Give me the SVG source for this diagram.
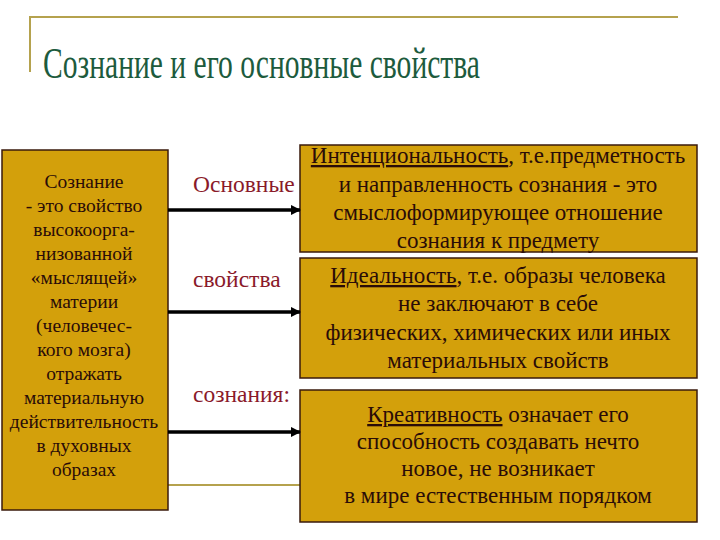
<svg xmlns="http://www.w3.org/2000/svg" width="720" height="540" viewBox="0 0 720 540">
<defs>
<style>
.box{fill:#D3A00B;stroke:#3a1a0c;stroke-width:1.5}
.t{font-family:"Liberation Serif","DejaVu Serif",serif;fill:#2a0c08;text-anchor:middle}
.lt{font-size:19.5px}
.rt{font-size:23px}
.mid{font-family:"Liberation Serif","DejaVu Serif",serif;font-size:23.5px;fill:#8a1a2a}
.deco{stroke:#b5a24e;stroke-width:2;fill:none}
.arr{stroke:#000;stroke-width:3.5;fill:none}
</style>
<marker id="ah" viewBox="0 0 10 10" refX="9" refY="5" markerWidth="3" markerHeight="3" orient="auto" markerUnits="strokeWidth">
<path d="M0,0 L10,5 L0,10 z" fill="#000"/>
</marker>
</defs>
<rect width="720" height="540" fill="#fff"/>
<g id="decor">
<path class="deco" d="M30,72 V17 H678"/>
<line class="deco" x1="168" y1="485" x2="300" y2="485"/>
</g>
<text id="title" x="43" y="78" font-family="Liberation Serif, DejaVu Serif, serif" font-size="44" fill="#1d5b3d" textLength="437" lengthAdjust="spacingAndGlyphs">Сознание и его основные свойства</text>
<g id="node-left">
<rect class="box" x="2" y="150" width="166" height="360"/>
<text class="t lt" x="84" y="188">Сознание</text>
<text class="t lt" x="84" y="212">- это свойство</text>
<text class="t lt" x="84" y="236">высокоорга-</text>
<text class="t lt" x="84" y="260">низованной</text>
<text class="t lt" x="84" y="284">«мыслящей»</text>
<text class="t lt" x="84" y="308">материи</text>
<text class="t lt" x="84" y="332">(человечес-</text>
<text class="t lt" x="84" y="356">кого мозга)</text>
<text class="t lt" x="84" y="380">отражать</text>
<text class="t lt" x="84" y="404">материальную</text>
<text class="t lt" x="84" y="428">действительность</text>
<text class="t lt" x="84" y="452">в духовных</text>
<text class="t lt" x="84" y="476">образах</text>
</g>
<g id="labels">
<text class="mid" x="193" y="192">Основные</text>
<text class="mid" x="193" y="287">свойства</text>
<text class="mid" x="193" y="402">сознания:</text>
</g>
<g id="node-intent">
<rect class="box" x="300" y="145" width="397" height="107"/>
<text class="t rt" x="498" y="163"><tspan text-decoration="underline">Интенциональность</tspan>, т.е.предметность</text>
<text class="t rt" x="498" y="192">и направленность сознания - это</text>
<text class="t rt" x="498" y="220">смыслоформирующее отношение</text>
<text class="t rt" x="498" y="248">сознания к предмету</text>
</g>
<g id="node-ideal">
<rect class="box" x="300" y="258" width="397" height="120"/>
<text class="t rt" x="498" y="283"><tspan text-decoration="underline">Идеальность</tspan>, т.е. образы человека</text>
<text class="t rt" x="498" y="311">не заключают в себе</text>
<text class="t rt" x="498" y="340">физических, химических или иных</text>
<text class="t rt" x="498" y="368">материальных свойств</text>
</g>
<g id="node-creative">
<rect class="box" x="300" y="390" width="397" height="132"/>
<text class="t rt" x="498" y="422"><tspan text-decoration="underline">Креативность</tspan> означает его</text>
<text class="t rt" x="498" y="449">способность создавать нечто</text>
<text class="t rt" x="498" y="476">новое, не возникает</text>
<text class="t rt" x="498" y="503">в мире естественным порядком</text>
</g>
<g id="connectors">
<line class="arr" x1="168" y1="210" x2="300" y2="210" marker-end="url(#ah)"/>
<line class="arr" x1="168" y1="312" x2="300" y2="312" marker-end="url(#ah)"/>
<line class="arr" x1="168" y1="432" x2="300" y2="432" marker-end="url(#ah)"/>
</g>
</svg>
